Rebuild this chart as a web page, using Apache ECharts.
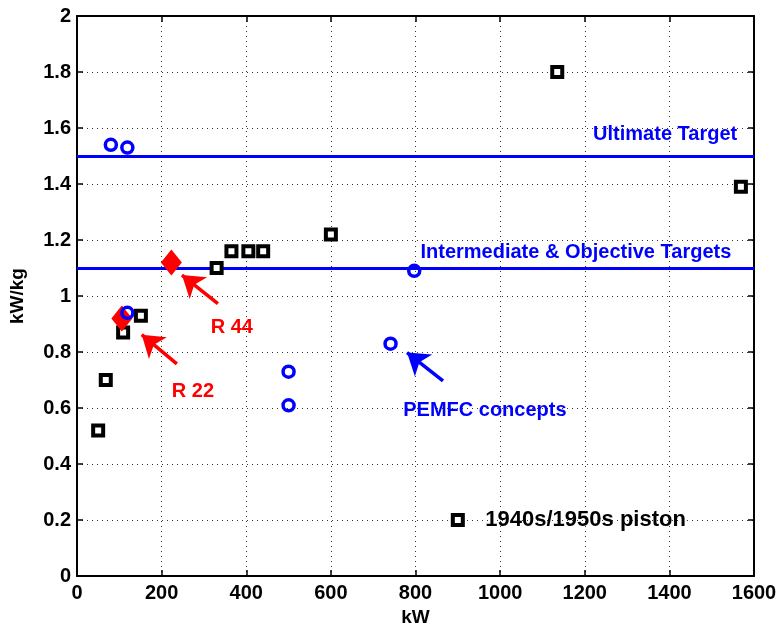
<!DOCTYPE html>
<html>
<head>
<meta charset="utf-8">
<script src="https://cdn.jsdelivr.net/npm/echarts@6/dist/echarts.min.js"></script>
<style>html,body{margin:0;padding:0;background:#fff}#c{width:784px;height:632px}</style>
</head>
<body>
<div id="c"></div>
<script>
// ---- data ----
var pistonKW   = [50, 68, 109, 151, 330, 365, 405, 440, 600, 1135, 1569];
var pistonKWkg = [0.52, 0.70, 0.87, 0.93, 1.10, 1.16, 1.16, 1.16, 1.22, 1.80, 1.39];
var pemfcKW    = [80, 119, 119, 500, 500, 741, 797];
var pemfcKWkg  = [1.54, 1.53, 0.94, 0.73, 0.61, 0.83, 1.09];
var robinsonKW   = [223, 106];
var robinsonKWkg = [1.12, 0.92];
var targetUltimate = 1.5;
var targetIntermediate = 1.1;
var legendMark = [900, 0.2];
var legendText = '1940s/1950s piston';
// annotation texts and anchor points (data units)
var annoTexts  = ['Ultimate Target', 'Intermediate & Objective Targets', 'R 44', 'R 22', 'PEMFC concepts'];
var annoX      = [1390, 1179, 366, 274, 964];
var annoY      = [1.576, 1.157, 0.888, 0.658, 0.591];
var annoColors = ['#0000ff', '#0000ff', '#ff0000', '#ff0000', '#0000ff'];
// arrows: [tailX, tailY, headX, headY]
var arrows = [[333, 0.973, 248, 1.075], [236, 0.758, 153, 0.862], [865, 0.697, 780, 0.798]];
var arrowColors = ['#ff0000', '#ff0000', '#0000ff'];
var xTicks = [0, 1600, 200];
var yTicks = [0, 2, 0.2];

function zip(a, b) { return a.map(function (v, i) { return [v, b[i]]; }); }

var chart = echarts.init(document.getElementById('c'), null, {renderer: 'canvas'});
var font = '"Liberation Sans", Arial, sans-serif';
var axisCommon = {
  axisLine: {show: true, onZero: false, lineStyle: {color: '#000', width: 2}},
  axisTick: {show: true, inside: true, length: 6, lineStyle: {color: '#000', width: 1.5}},
};

var annoSeries = annoTexts.map(function (t, i) {
  return {
    type: 'scatter', symbolSize: 1, silent: true, z: 5,
    itemStyle: {opacity: 0},
    data: [[annoX[i], annoY[i]]],
    label: {show: true, position: 'inside', formatter: t, color: annoColors[i], opacity: 1,
      textBorderWidth: 0, fontFamily: font, fontWeight: 'bold', fontSize: 20}
  };
});

var arrowSeries = arrows.map(function (a, i) {
  return {
    type: 'line', data: [], silent: true, z: 4,
    markLine: {
      silent: true, symbol: ['none', 'arrow'], symbolSize: 21,
      lineStyle: {color: arrowColors[i], width: 3.5, type: 'solid', opacity: 1},
      itemStyle: {color: arrowColors[i]},
      label: {show: false},
      data: [[{coord: [a[0], a[1]]}, {coord: [a[2], a[3]]}]]
    }
  };
});

chart.setOption({
  animation: false,
  backgroundColor: '#fff',
  grid: {left: 77, right: 30, top: 16, bottom: 51, containLabel: false},
  xAxis: [
    Object.assign({
      type: 'value', min: xTicks[0], max: xTicks[1], interval: xTicks[2], position: 'bottom',
      name: 'kW', nameLocation: 'middle', nameGap: 29,
      nameTextStyle: {fontFamily: font, fontWeight: 'bold', fontSize: 19, color: '#000'},
      axisLabel: {fontFamily: font, fontWeight: 'bold', fontSize: 20, color: '#000', margin: 7,
        formatter: function (v) { return String(v); }},
      splitLine: {show: true, lineStyle: {color: '#333', width: 1, type: [1, 4]}}
    }, axisCommon),
    Object.assign({
      type: 'value', min: xTicks[0], max: xTicks[1], interval: xTicks[2], position: 'top',
      axisLabel: {show: false}, splitLine: {show: false}
    }, axisCommon)
  ],
  yAxis: [
    Object.assign({
      type: 'value', min: yTicks[0], max: yTicks[1], interval: yTicks[2], position: 'left',
      name: 'kW/kg', nameLocation: 'middle', nameGap: 50,
      nameTextStyle: {fontFamily: font, fontWeight: 'bold', fontSize: 19, color: '#000'},
      axisLabel: {fontFamily: font, fontWeight: 'bold', fontSize: 20, color: '#000', margin: 6,
        formatter: function (v) { return String(+v.toFixed(1)); }},
      splitLine: {show: true, lineStyle: {color: '#333', width: 1, type: [1, 4]}}
    }, axisCommon),
    Object.assign({
      type: 'value', min: yTicks[0], max: yTicks[1], interval: yTicks[2], position: 'right',
      axisLabel: {show: false}, splitLine: {show: false}
    }, axisCommon)
  ],
  series: [
    {
      type: 'line', data: [], silent: true, z: 3,
      markLine: {
        silent: true, symbol: 'none', label: {show: false},
        lineStyle: {color: '#0000ff', width: 3, type: 'solid'},
        data: [{yAxis: targetUltimate}, {yAxis: targetIntermediate}]
      }
    },
    {
      name: 'piston', type: 'scatter', symbol: 'rect', symbolSize: 10, z: 6,
      itemStyle: {color: '#fff', borderColor: '#000', borderWidth: 4, opacity: 1},
      data: zip(pistonKW, pistonKWkg).concat([legendMark])
    },
    {
      name: 'PEMFC', type: 'scatter', symbol: 'circle', symbolSize: 11, z: 7,
      itemStyle: {color: 'rgba(255,255,255,0)', borderColor: '#0000ff', borderWidth: 3.5, opacity: 1},
      data: zip(pemfcKW, pemfcKWkg)
    },
    {
      name: 'Robinson', type: 'scatter', symbol: 'diamond', symbolSize: [21, 26], z: 6,
      itemStyle: {color: '#ff0000', opacity: 1},
      data: zip(robinsonKW, robinsonKWkg)
    },
    {
      type: 'scatter', symbolSize: 1, silent: true, z: 5,
      itemStyle: {opacity: 0},
      data: [legendMark],
      label: {show: true, position: 'right', distance: 27, formatter: legendText, color: '#000', opacity: 1,
        textBorderWidth: 0, fontFamily: font, fontWeight: 'bold', fontSize: 22}
    }
  ].concat(annoSeries).concat(arrowSeries)
});
</script>
</body>
</html>
